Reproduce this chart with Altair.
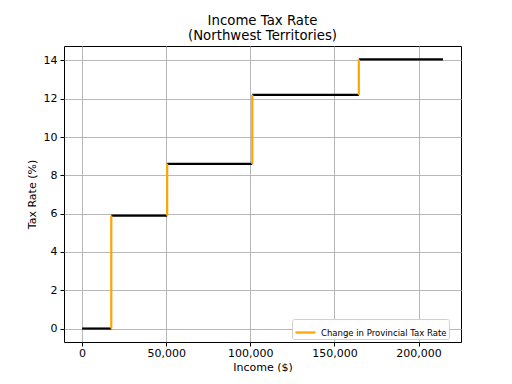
import altair as alt
import pandas as pd

thresholds = [0, 17373, 50597, 101198, 164525, 214525]
rates = [0, 5.9, 8.6, 12.2, 14.05]
x_ticks = [0, 50000, 100000, 150000, 200000]
y_ticks = [0, 2, 4, 6, 8, 10, 12, 14]
legend_label = "Change in Provincial Tax Rate"

horiz = pd.DataFrame({
    "x": thresholds[:-1],
    "x2": thresholds[1:],
    "y": rates,
})
vert = pd.DataFrame({
    "x": thresholds[1:-1],
    "y": rates[:-1],
    "y2": rates[1:],
    "series": [legend_label] * (len(rates) - 1),
})

xpad = (thresholds[-1] - thresholds[0]) * 0.05
ypad = (rates[-1] - rates[0]) * 0.05
xscale = alt.Scale(domain=[thresholds[0] - xpad, thresholds[-1] + xpad], nice=False, zero=False)
yscale = alt.Scale(domain=[rates[0] - ypad, rates[-1] + ypad], nice=False, zero=False)

xaxis = alt.Axis(values=x_ticks, format=",d", title="Income ($)", grid=True)
yaxis = alt.Axis(values=y_ticks, format="d", title="Tax Rate (%)", grid=True)

h = alt.Chart(horiz).mark_rule(color="black", strokeWidth=2.2).encode(
    x=alt.X("x:Q", scale=xscale, axis=xaxis),
    x2="x2:Q",
    y=alt.Y("y:Q", scale=yscale, axis=yaxis),
)

v = alt.Chart(vert).mark_rule(strokeWidth=2.2).encode(
    x=alt.X("x:Q", scale=xscale, axis=xaxis),
    y=alt.Y("y:Q", scale=yscale, axis=yaxis),
    y2="y2:Q",
    color=alt.Color(
        "series:N",
        scale=alt.Scale(domain=[legend_label], range=["orange"]),
        legend=alt.Legend(
            title=None,
            orient="none",
            legendX=228,
            legendY=273,
            symbolType="stroke",
            symbolSize=400,
            symbolStrokeWidth=2.2,
            labelFontSize=8.5,
            labelFont="DejaVu Sans",
            labelColor="black",
            fillColor="white",
            strokeColor="#d0d0d0",
            cornerRadius=2,
            padding=2,
            labelOffset=4,
        ),
    ),
)

chart = (
    alt.layer(h, v)
    .properties(
        width=397,
        height=296,
        title=alt.TitleParams(
            text=["Income Tax Rate", "(Northwest Territories)"],
            fontSize=13.3,
            font="DejaVu Sans",
            fontWeight="normal",
            color="black",
            anchor="middle",
            offset=4,
            lineHeight=15,
        ),
        autosize=alt.AutoSizeParams(type="none"),
        padding={"left": 56, "top": 38, "right": 43, "bottom": 30},
    )
    .configure_view(stroke="black", strokeWidth=1)
    .configure_axis(
        domain=False,
        tickColor="black",
        tickSize=4,
        tickWidth=1,
        labelPadding=3,
        labelFontSize=11,
        labelFont="DejaVu Sans",
        labelColor="black",
        titleFontSize=11,
        titleFont="DejaVu Sans",
        titleFontWeight="normal",
        titleColor="black",
        gridColor="#b0b0b0",
        gridWidth=0.9,
    )
    .configure_axisX(titlePadding=3, labelPadding=1)
    .configure_axisY(titlePadding=6)
)

chart.save("out.html", embed_options={"renderer": "svg", "actions": False})
